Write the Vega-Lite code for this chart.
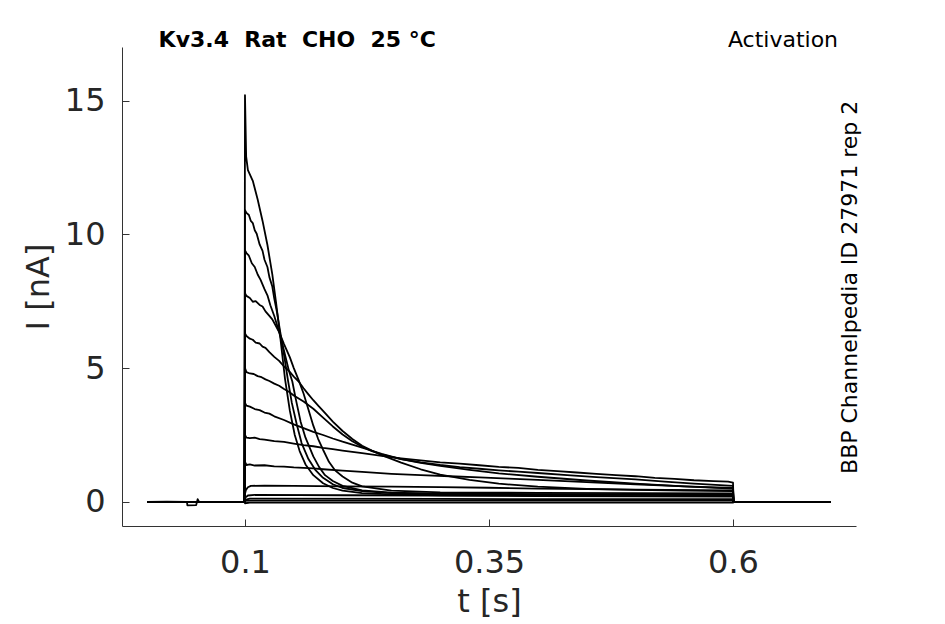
{
  "$schema": "https://vega.github.io/schema/vega-lite/v6.json",
  "width": 734,
  "height": 479,
  "autosize": {"type": "none"},
  "padding": {"left": 122, "top": 47, "right": 89, "bottom": 98},
  "background": "white",
  "config": {"view": {"stroke": null}, "font": "DejaVu Sans"},
  "datasets": {
    "traces": [
      {"s":1,"t":0,"i":0},{"s":1,"t":0.02,"i":0.01},{"s":1,"t":0.0405,"i":0},{"s":1,"t":0.041,"i":-0.13},{"s":1,"t":0.05,"i":-0.12},{"s":1,"t":0.0515,"i":0.1},{"s":1,"t":0.053,"i":0},{"s":1,"t":0.0995,"i":0},
      {"s":1,"t":0.1,"i":15.2},{"s":1,"t":0.1012,"i":12.9},{"s":1,"t":0.103,"i":12.4},{"s":1,"t":0.108,"i":12.0},{"s":1,"t":0.113,"i":11.3},{"s":1,"t":0.118,"i":10.5},{"s":1,"t":0.123,"i":9.6},{"s":1,"t":0.128,"i":8.5},{"s":1,"t":0.132,"i":7.4},{"s":1,"t":0.136,"i":6.2},{"s":1,"t":0.141,"i":4.6},{"s":1,"t":0.146,"i":3.4},{"s":1,"t":0.151,"i":2.5},{"s":1,"t":0.156,"i":1.9},{"s":1,"t":0.162,"i":1.4},{"s":1,"t":0.17,"i":1.0},{"s":1,"t":0.18,"i":0.7},{"s":1,"t":0.19,"i":0.52},{"s":1,"t":0.2,"i":0.42},{"s":1,"t":0.22,"i":0.33},{"s":1,"t":0.25,"i":0.28},{"s":1,"t":0.3,"i":0.25},{"s":1,"t":0.4,"i":0.23},{"s":1,"t":0.5,"i":0.22},{"s":1,"t":0.6,"i":0.22},{"s":1,"t":0.6005,"i":0},{"s":1,"t":0.7,"i":0},

      {"s":2,"t":0,"i":0},{"s":2,"t":0.0995,"i":0},{"s":2,"t":0.1,"i":10.9},{"s":2,"t":0.1015,"i":10.8},{"s":2,"t":0.104,"i":10.72},{"s":2,"t":0.106,"i":10.5},{"s":2,"t":0.108,"i":10.42},{"s":2,"t":0.11,"i":10.15},{"s":2,"t":0.112,"i":10.02},{"s":2,"t":0.115,"i":9.62},{"s":2,"t":0.118,"i":9.38},{"s":2,"t":0.12,"i":9.05},{"s":2,"t":0.123,"i":8.78},{"s":2,"t":0.125,"i":8.4},{"s":2,"t":0.128,"i":8.05},{"s":2,"t":0.13,"i":7.6},{"s":2,"t":0.133,"i":7.05},{"s":2,"t":0.135,"i":6.6},{"s":2,"t":0.14,"i":5.5},{"s":2,"t":0.144,"i":4.55},{"s":2,"t":0.148,"i":3.7},{"s":2,"t":0.153,"i":2.9},{"s":2,"t":0.158,"i":2.2},{"s":2,"t":0.165,"i":1.6},{"s":2,"t":0.172,"i":1.2},{"s":2,"t":0.18,"i":0.9},{"s":2,"t":0.19,"i":0.66},{"s":2,"t":0.2,"i":0.52},{"s":2,"t":0.22,"i":0.4},{"s":2,"t":0.25,"i":0.33},{"s":2,"t":0.3,"i":0.29},{"s":2,"t":0.4,"i":0.27},{"s":2,"t":0.5,"i":0.26},{"s":2,"t":0.6,"i":0.25},{"s":2,"t":0.6005,"i":0},{"s":2,"t":0.7,"i":0},

      {"s":3,"t":0,"i":0},{"s":3,"t":0.0995,"i":0},{"s":3,"t":0.1,"i":9.4},{"s":3,"t":0.1015,"i":9.3},{"s":3,"t":0.104,"i":9.2},{"s":3,"t":0.107,"i":8.92},{"s":3,"t":0.11,"i":8.78},{"s":3,"t":0.113,"i":8.5},{"s":3,"t":0.116,"i":8.3},{"s":3,"t":0.12,"i":7.95},{"s":3,"t":0.123,"i":7.72},{"s":3,"t":0.126,"i":7.35},{"s":3,"t":0.13,"i":6.95},{"s":3,"t":0.135,"i":6.35},{"s":3,"t":0.14,"i":5.65},{"s":3,"t":0.145,"i":4.9},{"s":3,"t":0.1485,"i":4.5},{"s":3,"t":0.152,"i":3.85},{"s":3,"t":0.157,"i":3.0},{"s":3,"t":0.162,"i":2.4},{"s":3,"t":0.17,"i":1.7},{"s":3,"t":0.176,"i":1.3},{"s":3,"t":0.182,"i":1.0},{"s":3,"t":0.19,"i":0.78},{"s":3,"t":0.2,"i":0.6},{"s":3,"t":0.22,"i":0.43},{"s":3,"t":0.25,"i":0.35},{"s":3,"t":0.3,"i":0.31},{"s":3,"t":0.4,"i":0.29},{"s":3,"t":0.5,"i":0.28},{"s":3,"t":0.6,"i":0.28},{"s":3,"t":0.6005,"i":0},{"s":3,"t":0.7,"i":0},

      {"s":4,"t":0,"i":0},{"s":4,"t":0.0995,"i":0},{"s":4,"t":0.1,"i":7.8},{"s":4,"t":0.1015,"i":7.7},{"s":4,"t":0.105,"i":7.62},{"s":4,"t":0.108,"i":7.48},{"s":4,"t":0.111,"i":7.5},{"s":4,"t":0.115,"i":7.36},{"s":4,"t":0.118,"i":7.3},{"s":4,"t":0.121,"i":7.12},{"s":4,"t":0.125,"i":6.95},{"s":4,"t":0.128,"i":6.82},{"s":4,"t":0.131,"i":6.62},{"s":4,"t":0.135,"i":6.35},{"s":4,"t":0.14,"i":5.9},{"s":4,"t":0.146,"i":5.4},{"s":4,"t":0.15,"i":5.0},{"s":4,"t":0.155,"i":4.55},{"s":4,"t":0.16,"i":4.05},{"s":4,"t":0.165,"i":3.45},{"s":4,"t":0.17,"i":2.85},{"s":4,"t":0.175,"i":2.35},{"s":4,"t":0.18,"i":1.95},{"s":4,"t":0.186,"i":1.5},{"s":4,"t":0.192,"i":1.19},{"s":4,"t":0.2,"i":0.95},{"s":4,"t":0.21,"i":0.72},{"s":4,"t":0.22,"i":0.58},{"s":4,"t":0.25,"i":0.42},{"s":4,"t":0.3,"i":0.36},{"s":4,"t":0.4,"i":0.34},{"s":4,"t":0.5,"i":0.33},{"s":4,"t":0.6,"i":0.32},{"s":4,"t":0.6005,"i":0},{"s":4,"t":0.7,"i":0},

      {"s":5,"t":0,"i":0},{"s":5,"t":0.0995,"i":0},{"s":5,"t":0.1,"i":6.3},{"s":5,"t":0.1015,"i":6.2},{"s":5,"t":0.105,"i":6.1},{"s":5,"t":0.108,"i":6.06},{"s":5,"t":0.111,"i":5.95},{"s":5,"t":0.115,"i":5.92},{"s":5,"t":0.118,"i":5.8},{"s":5,"t":0.121,"i":5.76},{"s":5,"t":0.125,"i":5.6},{"s":5,"t":0.13,"i":5.42},{"s":5,"t":0.135,"i":5.27},{"s":5,"t":0.14,"i":5.06},{"s":5,"t":0.145,"i":4.9},{"s":5,"t":0.15,"i":4.68},{"s":5,"t":0.155,"i":4.5},{"s":5,"t":0.16,"i":4.25},{"s":5,"t":0.165,"i":4.02},{"s":5,"t":0.17,"i":3.8},{"s":5,"t":0.175,"i":3.6},{"s":5,"t":0.18,"i":3.4},{"s":5,"t":0.19,"i":3.0},{"s":5,"t":0.2,"i":2.65},{"s":5,"t":0.21,"i":2.35},{"s":5,"t":0.22,"i":2.1},{"s":5,"t":0.23,"i":1.92},{"s":5,"t":0.24,"i":1.75},{"s":5,"t":0.26,"i":1.47},{"s":5,"t":0.28,"i":1.22},{"s":5,"t":0.3,"i":1.02},{"s":5,"t":0.33,"i":0.82},{"s":5,"t":0.36,"i":0.68},{"s":5,"t":0.4,"i":0.57},{"s":5,"t":0.45,"i":0.49},{"s":5,"t":0.5,"i":0.45},{"s":5,"t":0.55,"i":0.42},{"s":5,"t":0.6,"i":0.4},{"s":5,"t":0.6005,"i":0},{"s":5,"t":0.7,"i":0},

      {"s":6,"t":0,"i":0},{"s":6,"t":0.0995,"i":0},{"s":6,"t":0.1,"i":5.0},{"s":6,"t":0.1015,"i":4.85},{"s":6,"t":0.105,"i":4.8},{"s":6,"t":0.109,"i":4.78},{"s":6,"t":0.113,"i":4.7},{"s":6,"t":0.117,"i":4.66},{"s":6,"t":0.121,"i":4.58},{"s":6,"t":0.125,"i":4.52},{"s":6,"t":0.13,"i":4.42},{"s":6,"t":0.135,"i":4.34},{"s":6,"t":0.14,"i":4.22},{"s":6,"t":0.145,"i":4.12},{"s":6,"t":0.15,"i":3.98},{"s":6,"t":0.16,"i":3.75},{"s":6,"t":0.17,"i":3.48},{"s":6,"t":0.18,"i":3.15},{"s":6,"t":0.19,"i":2.82},{"s":6,"t":0.2,"i":2.52},{"s":6,"t":0.21,"i":2.27},{"s":6,"t":0.22,"i":2.06},{"s":6,"t":0.23,"i":1.9},{"s":6,"t":0.24,"i":1.78},{"s":6,"t":0.25,"i":1.68},{"s":6,"t":0.26,"i":1.6},{"s":6,"t":0.28,"i":1.46},{"s":6,"t":0.3,"i":1.35},{"s":6,"t":0.33,"i":1.2},{"s":6,"t":0.36,"i":1.07},{"s":6,"t":0.4,"i":0.94},{"s":6,"t":0.45,"i":0.8},{"s":6,"t":0.5,"i":0.68},{"s":6,"t":0.55,"i":0.58},{"s":6,"t":0.6,"i":0.52},{"s":6,"t":0.6005,"i":0},{"s":6,"t":0.7,"i":0},

      {"s":7,"t":0,"i":0},{"s":7,"t":0.0995,"i":0},{"s":7,"t":0.1,"i":3.7},{"s":7,"t":0.1015,"i":3.6},{"s":7,"t":0.105,"i":3.56},{"s":7,"t":0.11,"i":3.47},{"s":7,"t":0.115,"i":3.43},{"s":7,"t":0.12,"i":3.34},{"s":7,"t":0.125,"i":3.3},{"s":7,"t":0.13,"i":3.2},{"s":7,"t":0.14,"i":3.06},{"s":7,"t":0.15,"i":2.9},{"s":7,"t":0.16,"i":2.76},{"s":7,"t":0.17,"i":2.62},{"s":7,"t":0.18,"i":2.5},{"s":7,"t":0.19,"i":2.37},{"s":7,"t":0.2,"i":2.25},{"s":7,"t":0.21,"i":2.14},{"s":7,"t":0.22,"i":2.03},{"s":7,"t":0.24,"i":1.8},{"s":7,"t":0.26,"i":1.6},{"s":7,"t":0.28,"i":1.48},{"s":7,"t":0.3,"i":1.38},{"s":7,"t":0.32,"i":1.3},{"s":7,"t":0.34,"i":1.24},{"s":7,"t":0.36,"i":1.18},{"s":7,"t":0.38,"i":1.13},{"s":7,"t":0.4,"i":1.08},{"s":7,"t":0.43,"i":1.0},{"s":7,"t":0.46,"i":0.93},{"s":7,"t":0.5,"i":0.84},{"s":7,"t":0.53,"i":0.76},{"s":7,"t":0.56,"i":0.68},{"s":7,"t":0.6,"i":0.6},{"s":7,"t":0.6005,"i":0},{"s":7,"t":0.7,"i":0},

      {"s":8,"t":0,"i":0},{"s":8,"t":0.0995,"i":0},{"s":8,"t":0.1,"i":2.5},{"s":8,"t":0.1015,"i":2.4},{"s":8,"t":0.105,"i":2.38},{"s":8,"t":0.11,"i":2.4},{"s":8,"t":0.115,"i":2.35},{"s":8,"t":0.12,"i":2.33},{"s":8,"t":0.125,"i":2.3},{"s":8,"t":0.13,"i":2.27},{"s":8,"t":0.14,"i":2.24},{"s":8,"t":0.15,"i":2.18},{"s":8,"t":0.16,"i":2.12},{"s":8,"t":0.17,"i":2.08},{"s":8,"t":0.18,"i":2.02},{"s":8,"t":0.19,"i":1.97},{"s":8,"t":0.2,"i":1.92},{"s":8,"t":0.22,"i":1.82},{"s":8,"t":0.24,"i":1.72},{"s":8,"t":0.26,"i":1.63},{"s":8,"t":0.28,"i":1.55},{"s":8,"t":0.3,"i":1.48},{"s":8,"t":0.32,"i":1.43},{"s":8,"t":0.34,"i":1.37},{"s":8,"t":0.36,"i":1.31},{"s":8,"t":0.38,"i":1.27},{"s":8,"t":0.4,"i":1.2},{"s":8,"t":0.42,"i":1.15},{"s":8,"t":0.44,"i":1.1},{"s":8,"t":0.46,"i":1.05},{"s":8,"t":0.48,"i":1.0},{"s":8,"t":0.5,"i":0.96},{"s":8,"t":0.52,"i":0.9},{"s":8,"t":0.54,"i":0.86},{"s":8,"t":0.56,"i":0.81},{"s":8,"t":0.58,"i":0.78},{"s":8,"t":0.595,"i":0.76},{"s":8,"t":0.6,"i":0.72},{"s":8,"t":0.6005,"i":0},{"s":8,"t":0.7,"i":0},

      {"s":9,"t":0,"i":0},{"s":9,"t":0.0995,"i":0},{"s":9,"t":0.1,"i":1.5},{"s":9,"t":0.1015,"i":1.38},{"s":9,"t":0.105,"i":1.4},{"s":9,"t":0.11,"i":1.36},{"s":9,"t":0.12,"i":1.37},{"s":9,"t":0.13,"i":1.33},{"s":9,"t":0.14,"i":1.32},{"s":9,"t":0.15,"i":1.29},{"s":9,"t":0.16,"i":1.27},{"s":9,"t":0.17,"i":1.25},{"s":9,"t":0.18,"i":1.22},{"s":9,"t":0.2,"i":1.17},{"s":9,"t":0.22,"i":1.12},{"s":9,"t":0.25,"i":1.05},{"s":9,"t":0.28,"i":1.0},{"s":9,"t":0.31,"i":0.96},{"s":9,"t":0.34,"i":0.92},{"s":9,"t":0.37,"i":0.87},{"s":9,"t":0.4,"i":0.82},{"s":9,"t":0.45,"i":0.74},{"s":9,"t":0.5,"i":0.66},{"s":9,"t":0.55,"i":0.58},{"s":9,"t":0.6,"i":0.5},{"s":9,"t":0.6005,"i":0},{"s":9,"t":0.7,"i":0},

      {"s":10,"t":0,"i":0},{"s":10,"t":0.0995,"i":0},{"s":10,"t":0.1,"i":0.3},{"s":10,"t":0.101,"i":0.45},{"s":10,"t":0.103,"i":0.55},{"s":10,"t":0.106,"i":0.6},{"s":10,"t":0.12,"i":0.61},{"s":10,"t":0.15,"i":0.6},{"s":10,"t":0.2,"i":0.58},{"s":10,"t":0.25,"i":0.57},{"s":10,"t":0.3,"i":0.55},{"s":10,"t":0.35,"i":0.53},{"s":10,"t":0.4,"i":0.5},{"s":10,"t":0.5,"i":0.46},{"s":10,"t":0.6,"i":0.43},{"s":10,"t":0.6005,"i":0},{"s":10,"t":0.7,"i":0},

      {"s":11,"t":0,"i":0},{"s":11,"t":0.0995,"i":0},{"s":11,"t":0.1,"i":0.15},{"s":11,"t":0.103,"i":0.24},{"s":11,"t":0.11,"i":0.26},{"s":11,"t":0.2,"i":0.25},{"s":11,"t":0.3,"i":0.24},{"s":11,"t":0.4,"i":0.22},{"s":11,"t":0.5,"i":0.21},{"s":11,"t":0.6,"i":0.2},{"s":11,"t":0.6005,"i":0},{"s":11,"t":0.7,"i":0},

      {"s":12,"t":0,"i":0},{"s":12,"t":0.0995,"i":0},{"s":12,"t":0.1,"i":0.08},{"s":12,"t":0.105,"i":0.12},{"s":12,"t":0.3,"i":0.11},{"s":12,"t":0.6,"i":0.1},{"s":12,"t":0.6005,"i":0},{"s":12,"t":0.7,"i":0},

      {"s":13,"t":0,"i":0},{"s":13,"t":0.0995,"i":0},{"s":13,"t":0.1,"i":0.04},{"s":13,"t":0.105,"i":0.05},{"s":13,"t":0.6,"i":0.05},{"s":13,"t":0.6005,"i":0},{"s":13,"t":0.7,"i":0},

      {"s":14,"t":0,"i":0},{"s":14,"t":0.0995,"i":0},{"s":14,"t":0.1,"i":-0.05},{"s":14,"t":0.105,"i":-0.03},{"s":14,"t":0.6,"i":-0.03},{"s":14,"t":0.6005,"i":0},{"s":14,"t":0.7,"i":0}
    ]
  },
  "layer": [
    {
      "data": {"name": "traces"},
      "mark": {"type": "line", "color": "black", "strokeWidth": 1.8, "strokeJoin": "round"},
      "encoding": {
        "x": {
          "field": "t",
          "type": "quantitative",
          "scale": {"domain": [-0.026, 0.726], "nice": false, "zero": false},
          "axis": {
            "values": [0.1, 0.35, 0.6],
            "format": "~g",
            "title": "t [s]",
            "grid": false,
            "tickSize": -7,
            "tickColor": "#333333",
            "domainColor": "#333333",
            "labelFontSize": 32,
            "labelColor": "#262626",
            "labelBaseline": "alphabetic",
            "labelPadding": 53,
            "titleFontSize": 32,
            "titleFontWeight": "normal",
            "titleColor": "#262626",
            "titleBaseline": "alphabetic",
            "titleX": 367,
            "titleY": 85
          }
        },
        "y": {
          "field": "i",
          "type": "quantitative",
          "scale": {"domain": [-0.9, 17], "nice": false, "zero": false},
          "axis": {
            "values": [0, 5, 10, 15],
            "title": "I [nA]",
            "grid": false,
            "tickSize": -7,
            "tickColor": "#333333",
            "domainColor": "#333333",
            "labelFontSize": 32,
            "labelColor": "#262626",
            "labelPadding": 24,
            "titleFontSize": 32,
            "titleFontWeight": "normal",
            "titleColor": "#262626",
            "titleAngle": 270,
            "titleBaseline": "alphabetic",
            "titleX": -74,
            "titleY": 239.5
          }
        },
        "detail": {"field": "s", "type": "nominal"}
      }
    },
    {
      "data": {"values": [{}]},
      "mark": {"type": "text", "text": "Kv3.4\u00a0 Rat\u00a0 CHO\u00a0 25 °C", "align": "left", "baseline": "alphabetic", "fontSize": 22, "fontWeight": "bold", "color": "black"},
      "encoding": {"x": {"datum": 0.0115}, "y": {"datum": 17}}
    },
    {
      "data": {"values": [{}]},
      "mark": {"type": "text", "text": "Activation", "align": "right", "baseline": "alphabetic", "fontSize": 22, "color": "black"},
      "encoding": {"x": {"datum": 0.7076}, "y": {"datum": 17}}
    },
    {
      "data": {"values": [{}]},
      "mark": {"type": "text", "text": "BBP Channelpedia ID 27971 rep 2", "align": "center", "baseline": "alphabetic", "angle": 270, "fontSize": 22, "color": "black"},
      "encoding": {"x": {"datum": 0.727}, "y": {"datum": 8.02}}
    }
  ]
}
